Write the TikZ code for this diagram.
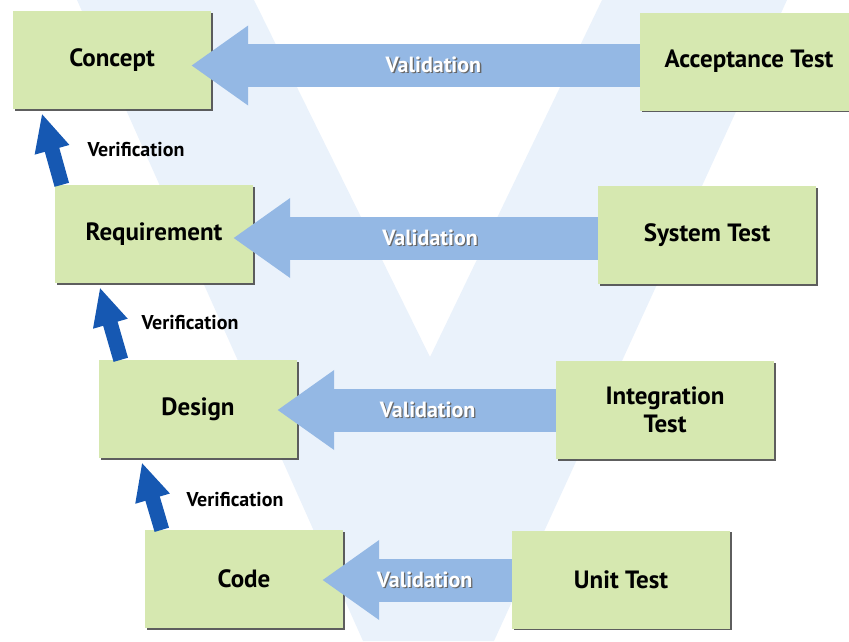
\documentclass[tikz,border=0pt]{standalone}
\usepackage{fontspec}
\setmainfont{PT Sans}
\usetikzlibrary{arrows.meta,shadows}

\definecolor{stagegreen}{RGB}{214,232,176}
\definecolor{validblue}{RGB}{148,184,228}
\definecolor{verifblue}{RGB}{22,88,178}
\definecolor{vshade}{RGB}{234,242,251}

% white text with a grey shadow
\newcommand{\embossed}[1]{\makebox[0pt][l]{\hspace{1.3pt}\raisebox{-1.3pt}{\textcolor{black!60}{#1}}}\textcolor{white}{#1}}

\tikzset{
    stage/.style={fill=stagegreen, minimum width=198pt, minimum height=98pt,
        align=center, inner sep=0pt,
        font=\fontsize{25}{28}\selectfont\bfseries,
        drop shadow={shadow xshift=1.6pt, shadow yshift=-1.6pt, fill=black!70, opacity=0.9}},
    teststage/.style={stage, minimum width=218pt},
    valid/.style={draw=validblue, line width=43pt, -{Triangle[length=57pt,width=76pt]}},
    validtext/.style={font=\fontsize{22}{24}\selectfont\bfseries, pos=0.46},
    verif/.style={draw=verifblue, line width=15pt, -{Triangle[length=38pt,width=33pt]}},
    veriftext/.style={font=\fontsize{20}{22}\selectfont\bfseries},
}

\begin{document}
\begin{tikzpicture}[x=1pt, y=-1pt]
    \useasboundingbox (0,0) rectangle (849,641);

    %The V
    \fill[vshade] (77,0) -- (363,641) -- (494,641) -- (787,0) -- (602,0)
        -- (430,357) -- (254,0) -- cycle;

    %Nodes
    \node[stage] at (112,60)      (concept) {Concept};
    \node[stage] at (154,234)     (req)     {Requirement};
    \node[stage] at (198,409)     (design)  {Design};
    \node[stage] at (244,579)     (code)    {Code};
    \node[teststage] at (749,61.5)(acc)     {Acceptance Test};
    \node[teststage] at (707,235) (sys)     {System Test};
    \node[teststage] at (665,410) (integ)   {Integration\\Test};
    \node[teststage] at (621,579.5)(unit)   {Unit Test};

    \node[veriftext] at (136,150) (v1) {Verification};
    \node[veriftext] at (190,323) (v2) {Verification};
    \node[veriftext] at (235,500) (v3) {Verification};

    %Validation
    \draw[valid] ([yshift=-4pt]acc.west)   -- node[validtext]{\embossed{Validation}} ([xshift=-20pt,yshift=-5.5pt]concept.east);
    \draw[valid] ([yshift=-3pt]sys.west)   -- node[validtext]{\embossed{Validation}} ([xshift=-20pt,yshift=-4pt]req.east);
    \draw[valid] (integ.west)              -- node[validtext]{\embossed{Validation}} ([xshift=-20pt,yshift=-1pt]design.east);
    \draw[valid] ([yshift=-0.5pt]unit.west)-- node[validtext]{\embossed{Validation}} ([xshift=-21pt,yshift=-1pt]code.east);

    %Verification
    \draw[verif] ([xshift=7pt]req.north west)     -- ([xshift=29pt,yshift=-4pt]concept.south west);
    \draw[verif] ([xshift=22pt]design.north west) -- ([xshift=45pt,yshift=-4pt]req.south west);
    \draw[verif] ([xshift=17pt]code.north west)   -- ([xshift=43pt,yshift=-4pt]design.south west);
\end{tikzpicture}
\end{document}
